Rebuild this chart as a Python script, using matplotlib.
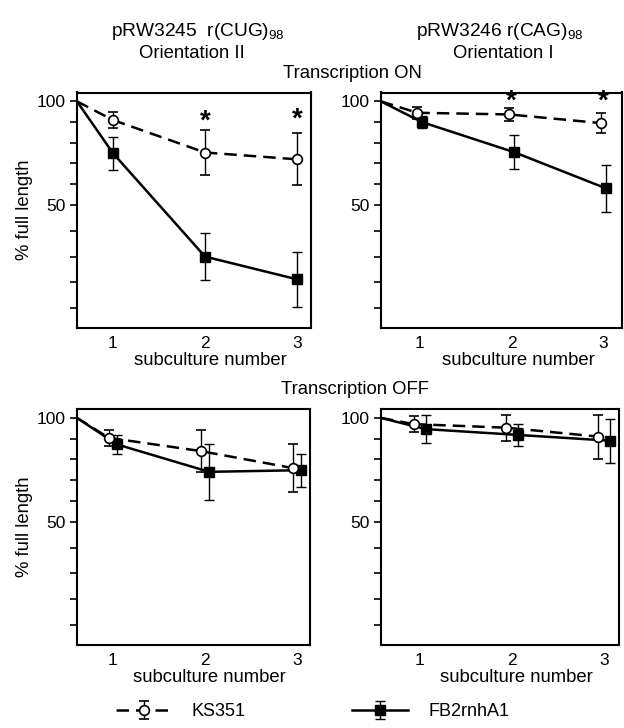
import matplotlib
matplotlib.use('Agg')
import matplotlib.pyplot as plt

plt.rcParams['font.family'] = ['Liberation Sans', 'DejaVu Sans']
plt.rcParams['mathtext.fontset'] = 'custom'
plt.rcParams['mathtext.rm'] = 'Liberation Sans'
plt.rcParams['mathtext.default'] = 'regular'

subculture = [1, 2, 3]
start_value = 100

# Transcription ON, pRW3245 r(CUG)98
ks_on_cug = [91, 75.3, 72]
ks_on_cug_err = [4, 11, 12.5]
fb_on_cug = [75, 25, 14]
fb_on_cug_err = [8, 11.3, 13.4]
stars_on_cug = [(2, 90), (3, 91)]

# Transcription ON, pRW3246 r(CAG)98
ks_on_cag = [94.5, 93.7, 89.5]
ks_on_cag_err = [3, 3.2, 5]
fb_on_cag = [90, 75.5, 58]
fb_on_cag_err = [3, 8.3, 11.3]
stars_on_cag = [(2, 100), (3, 100)]

# Transcription OFF, pRW3245 r(CUG)98
ks_off_cug = [90.4, 84, 75.8]
ks_off_cug_err = [4, 10, 11.5]
fb_off_cug = [87.2, 74, 74.8]
fb_off_cug_err = [4.6, 13.5, 8]

# Transcription OFF, pRW3246 r(CAG)98
ks_off_cag = [97, 95.3, 91]
ks_off_cag_err = [3.8, 6.2, 10.6]
fb_off_cag = [94.6, 91.8, 89]
fb_off_cag_err = [6.7, 5.2, 10.5]

yticks = [0, 12.5, 25, 37.5, 50, 60, 70, 80, 90, 100]
yticklabels = ['', '', '', '', '50', '', '', '', '', '100']

W, H = 624, 728
fig = plt.figure(figsize=(W / 100, H / 100), dpi=100)


def px_rect(x0, x1, y0, y1):
    return [x0 / W, 1 - y1 / H, (x1 - x0) / W, (y1 - y0) / H]


def draw_panel(rect, xlim, ks, ks_err, fb, fb_err, shift, stars, ylabel):
    ax = fig.add_axes(rect)
    x_ks = [x - shift for x in subculture]
    x_fb = [x + shift for x in subculture]

    ax.plot([xlim[0], x_fb[0]], [start_value, fb[0]], color='black', lw=1.8,
            zorder=2, solid_capstyle='butt')
    fb_h = ax.errorbar(x_fb, fb, yerr=fb_err, color='black', lw=1.8,
                       marker='s', ms=6.5, mfc='black', mec='black',
                       elinewidth=1.0, capsize=3.5, capthick=1.0, zorder=2)

    ax.plot([xlim[0], x_ks[0]], [start_value, ks[0]], color='black', lw=1.8,
            dashes=(5, 2.8), zorder=3)
    ks_h = ax.errorbar(x_ks, ks, yerr=ks_err, color='black', lw=1.8,
                       dashes=(5, 2.8), marker='o', ms=7, mfc='white',
                       mec='black', mew=1.2, elinewidth=1.0, capsize=3.5,
                       capthick=1.0, zorder=3)

    for sx, sy in stars:
        ax.text(sx, sy, '*', ha='center', va='center', fontsize=20,
                fontweight='bold', zorder=4)

    ax.set_xlim(xlim)
    ax.set_ylim(-9.5, 104.3)
    ax.set_xticks(subculture)
    ax.set_yticks(yticks)
    ax.set_yticklabels(yticklabels)
    ax.tick_params(axis='x', length=0, pad=6, labelsize=12.5)
    ax.tick_params(axis='y', direction='out', length=5, width=1.2, pad=3,
                   labelsize=12.5)
    for s in ax.spines.values():
        s.set_linewidth(1.5)
    ax.set_xlabel('subculture number', fontsize=13.3)
    ax.xaxis.set_label_coords(0.57, -0.1)
    if ylabel:
        ax.set_ylabel('% full length', fontsize=13.3)
        ax.yaxis.set_label_coords(-0.19, 0.5)
    return ks_h, fb_h


ks_h, fb_h = draw_panel(px_rect(77, 311, 92.5, 328), (0.61, 3.15),
                        ks_on_cug, ks_on_cug_err, fb_on_cug, fb_on_cug_err,
                        0, stars_on_cug, True)
draw_panel(px_rect(381, 622, 92.5, 328), (0.58, 3.2),
           ks_on_cag, ks_on_cag_err, fb_on_cag, fb_on_cag_err,
           0.025, stars_on_cag, False)
draw_panel(px_rect(77, 310, 409, 645), (0.61, 3.14),
           ks_off_cug, ks_off_cug_err, fb_off_cug, fb_off_cug_err,
           0.045, [], True)
draw_panel(px_rect(381, 619, 409, 645), (0.58, 3.16),
           ks_off_cag, ks_off_cag_err, fb_off_cag, fb_off_cag_err,
           0.065, [], False)

fig.text(198 / W, 1 - 32 / H, 'pRW3245  r(CUG)$_{98}$', ha='center', va='center', fontsize=13.8)
fig.text(192 / W, 1 - 54 / H, 'Orientation II', ha='center', va='center', fontsize=13.3)
fig.text(500 / W, 1 - 32 / H, 'pRW3246 r(CAG)$_{98}$', ha='center', va='center', fontsize=13.8)
fig.text(503 / W, 1 - 54 / H, 'Orientation I', ha='center', va='center', fontsize=13.3)
fig.text(352 / W, 1 - 73 / H, 'Transcription ON', ha='center', va='center', fontsize=13.3)
fig.text(355 / W, 1 - 390 / H, 'Transcription OFF', ha='center', va='center', fontsize=13.3)

fig.legend([ks_h, fb_h], ['KS351', 'FB2rnhA1'], loc='center left',
           bbox_to_anchor=(116 / W, 1 - 712 / H), ncol=2, frameon=False,
           fontsize=13, handlelength=3.1, handletextpad=1.1, columnspacing=5.9,
           borderpad=0, borderaxespad=0, numpoints=1)

fig.savefig('out.png', dpi=100)
